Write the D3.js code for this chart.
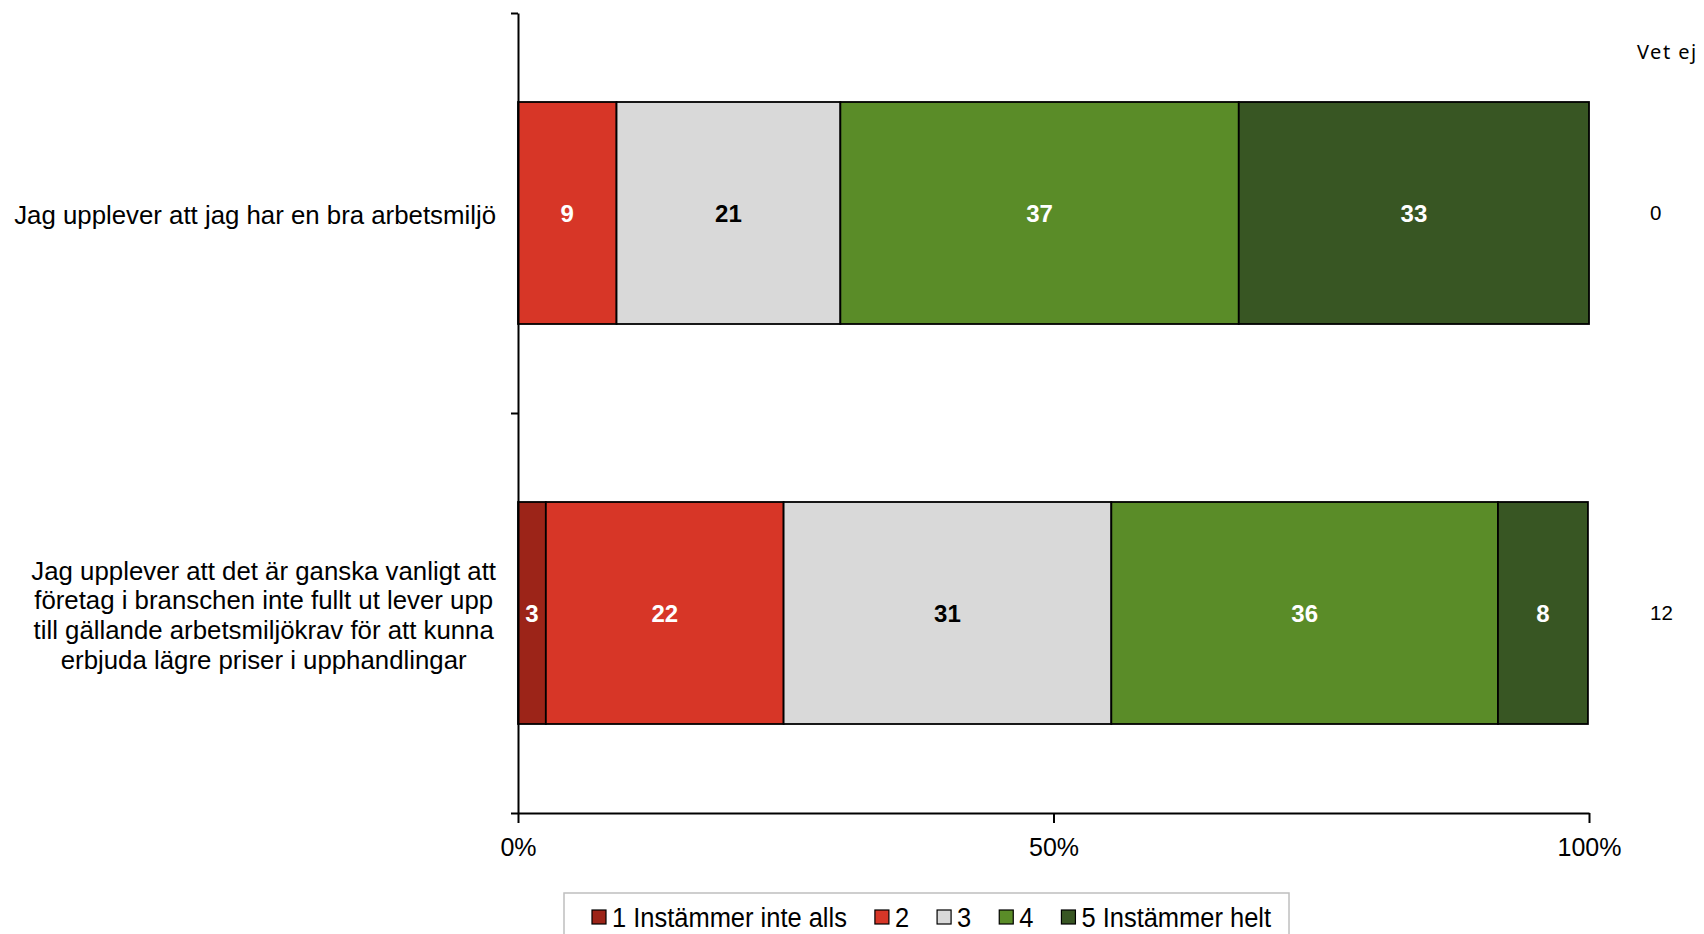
<!DOCTYPE html>
<html>
<head>
<meta charset="utf-8">
<script src="https://cdn.jsdelivr.net/npm/d3@7"></script>
<style>
  body { margin: 0; background: #fff; }
  svg { display: block; font-family: "Liberation Sans", Arial, sans-serif; }
</style>
</head>
<body>
<div id="chart"></div>
<script>
// statements (one per bar), each as the wrapped lines shown in the chart
const statements = [
  ["Jag upplever att jag har en bra arbetsmiljö"],
  ["Jag upplever att det är ganska vanligt att",
   "företag i branschen inte fullt ut lever upp",
   "till gällande arbetsmiljökrav för att kunna",
   "erbjuda lägre priser i upphandlingar"]
];
const categories = ["1 Instämmer inte alls", "2", "3", "4", "5 Instämmer helt"];
const colors = ["#9c2418", "#d73627", "#d9d9d9", "#5a8c28", "#385623"];
const labelColors = ["#fff", "#fff", "#000", "#fff", "#fff"];
// percent per category, row by row
const row1 = [0, 9.2, 20.9, 37.2, 32.7];
const row2 = [2.6, 22.2, 30.6, 36.1, 8.4];
const vetEj = [0, 12];
const xTicks = [0, 50, 100];

const W = 1704, H = 934;
const plot = {left: 518, right: 1589, top: 13, bottom: 813};

const svg = d3.select("#chart").append("svg")
  .attr("width", W).attr("height", H);

const x = d3.scaleLinear().domain([0, 100]).range([plot.left, plot.right]);
const y = d3.scaleBand().domain(d3.range(statements.length))
  .range([plot.top, plot.bottom]).padding(0);
const yLin = d3.scaleLinear().domain([0, statements.length]).range([plot.top, plot.bottom]);
const barH = y.bandwidth() * 0.555;

// stack the rows
const rows = [row1, row2].map(function(vals, i) {
  let acc = 0;
  return vals.map(function(v, k) {
    const seg = {row: i, k: k, v: v, x0: acc, x1: acc + v};
    acc += v;
    return seg;
  });
});

const bars = svg.append("g");
rows.forEach(function(segs) {
  const g = bars.append("g");
  g.selectAll("rect")
    .data(segs.filter(d => d.v > 0))
    .join("rect")
      .attr("x", d => x(d.x0))
      .attr("y", d => y(d.row) + (y.bandwidth() - barH) / 2)
      .attr("width", d => x(d.x1) - x(d.x0))
      .attr("height", barH)
      .attr("fill", d => colors[d.k])
      .attr("stroke", "#000")
      .attr("stroke-width", 1.8);

  g.selectAll("text")
    .data(segs.filter(d => d.v > 0))
    .join("text")
      .attr("x", d => (x(d.x0) + x(d.x1)) / 2)
      .attr("y", d => y(d.row) + y.bandwidth() / 2)
      .attr("dy", "0.36em")
      .attr("text-anchor", "middle")
      .attr("font-size", 24)
      .attr("font-weight", "bold")
      .attr("fill", d => labelColors[d.k])
      .text(d => d3.format(".0f")(d.v));
});

// axes
const yAxisG = svg.append("g")
  .attr("transform", `translate(${plot.left},0)`)
  .call(d3.axisLeft(yLin).tickValues(d3.range(statements.length + 1))
    .tickFormat("").tickSize(7).tickSizeOuter(0));

const xAxisG = svg.append("g")
  .attr("transform", `translate(0,${plot.bottom})`)
  .call(d3.axisBottom(x).tickValues(xTicks).tickFormat(d => d + "%")
    .tickSize(10).tickSizeOuter(0).tickPadding(15));

[yAxisG, xAxisG].forEach(function(g) {
  g.selectAll("path, line").attr("stroke", "#000").attr("stroke-width", 2);
});
xAxisG.selectAll("text").attr("font-size", 25).attr("fill", "#000")
  .attr("font-family", "Liberation Sans, Arial, sans-serif");

// category labels: block right edge near the axis, lines centred inside
const catG = svg.append("g").attr("font-size", 25.8).attr("fill", "#000");
statements.forEach(function(lines, i) {
  const t = catG.append("text").attr("text-anchor", "middle");
  const lh = 29.7;
  const cy = y(i) + y.bandwidth() / 2;
  lines.forEach(function(line, j) {
    t.append("tspan")
      .attr("y", cy + (j - (lines.length - 1) / 2) * lh + 2)
      .attr("dy", "0.36em")
      .text(line);
  });
  const spans = t.selectAll("tspan").nodes();
  const maxW = d3.max(spans, n => n.getComputedTextLength());
  t.selectAll("tspan").attr("x", 496 - maxW / 2);
});

// "Vet ej" column
svg.append("text")
  .attr("x", 1637).attr("y", 52).attr("dy", "0.36em")
  .attr("font-family", "Noto Sans, sans-serif")
  .attr("font-size", 20).attr("letter-spacing", 1.5)
  .text("Vet ej");
svg.append("g").selectAll("text")
  .data(vetEj)
  .join("text")
    .attr("x", 1650)
    .attr("y", (d, i) => y(i) + y.bandwidth() / 2)
    .attr("dy", "0.36em")
    .attr("font-size", 20.5)
    .text(d => d);

// legend (condensed look: regular face squeezed horizontally)
const legend = svg.append("g");
legend.append("rect")
  .attr("x", 564).attr("y", 893).attr("width", 725).attr("height", 60)
  .attr("fill", "#fff").attr("stroke", "#bfbfbf").attr("stroke-width", 1.5);

const squeeze = 0.91;
let lx = 592;
categories.forEach(function(c, k) {
  const item = legend.append("g").attr("transform", `translate(${lx},917)`);
  item.append("rect")
    .attr("x", 0).attr("y", -7).attr("width", 14).attr("height", 14)
    .attr("fill", colors[k]).attr("stroke", "#000").attr("stroke-width", 1.2);
  const t = item.append("text")
    .attr("x", 0).attr("y", 0).attr("dy", "0.36em")
    .attr("font-size", 28).attr("fill", "#000")
    .attr("transform", `translate(20,0) scale(${squeeze},1)`)
    .text(c);
  const tw = t.node().getComputedTextLength() * squeeze;
  lx += 20 + tw + 28;
});
</script>
</body>
</html>
